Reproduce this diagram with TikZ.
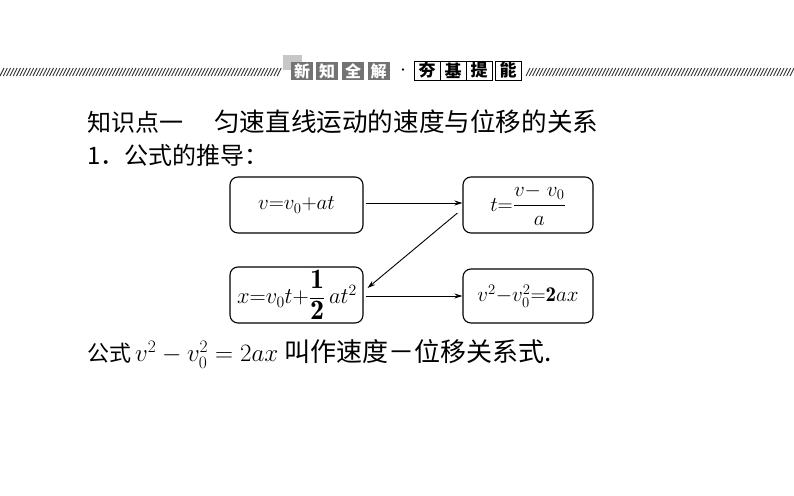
\RequirePackage{fix-cm}
\documentclass[tikz,border=0pt]{standalone}
\usepackage{fontspec}
\usepackage{amsmath}
\newfontfamily\cjk{Noto Sans CJK SC}
\usetikzlibrary{arrows.meta}
\tikzset{
  fbox/.style={draw, line width=1.1pt, rounded corners=8pt, minimum width=133pt, minimum height=56pt, inner sep=0pt, font=\fontsize{21}{24}\selectfont},
  conn/.style={line width=0.9pt, -{Stealth[length=8pt,width=5pt]}},
  graycell/.style={fill=black!55, draw=none, minimum width=22pt, minimum height=18pt, inner sep=0pt, text=white, font=\cjk\bfseries\fontsize{16}{16}\selectfont},
  whitecell/.style={fill=white, draw, line width=0.8pt, minimum width=26pt, minimum height=19pt, inner sep=0pt, font=\cjk\bfseries\fontsize{17}{17}\selectfont},
  hatch/.style={line width=0.9pt, black!80},
  txt/.style={anchor=west, inner sep=0pt}
}
\newcommand\bigdig[1]{\scalebox{1.25}{$\mathbf{#1}$}}
\begin{document}
\begin{tikzpicture}[x=1pt,y=-1pt]
\useasboundingbox (0,0) rectangle (794,495);
% header hatching
\foreach \i in {0,3.3,...,280} {\draw[hatch] (\i,76) -- (\i+4,68);}
\foreach \i in {526,529.3,...,792} {\draw[hatch] (\i,76) -- (\i+4,68);}
\fill[black!22] (283,55) rectangle (302,70);
\node[graycell] (g1) at (302,71) {新};
\node[graycell] (g2) at (327,71) {知};
\node[graycell] (g3) at (353,71) {全};
\node[graycell] (g4) at (378.5,71) {解};
\node[font=\bfseries\fontsize{16}{16}\selectfont] (dot) at (403,72) {·};
\node[whitecell] (w1) at (427,70.5) {夯};
\node[whitecell] (w2) at (453,70.5) {基};
\node[whitecell] (w3) at (479,70.5) {提};
\node[whitecell] (w4) at (508,70.5) {能};
% titles
\node[txt, font=\cjk\fontsize{24}{24}\selectfont] (title1) at (87,122) {知识点一};
\node[txt, font=\cjk\fontsize{25.6}{26}\selectfont] (title2) at (214,122) {匀速直线运动的速度与位移的关系};
\node[txt, font=\cjk\fontsize{24}{24}\selectfont] (sub) at (87,155) {1．公式的推导：};
% boxes
\node[fbox] (b1) at (296.5,205) {$v{=}v_0{+}at$};
\node[fbox, minimum width=130pt] (b2) at (528,205) {$t{=}\dfrac{v{-}\;v_0}{a}$\hspace{2pt}};
\node[fbox, font=\fontsize{22.5}{26}\selectfont] (b3) at (296.5,295) {\hspace{1pt}$x{=}v_0t{+}\dfrac{\bigdig{1}}{\bigdig{2}}\,at^2$};
\node[fbox, minimum width=130pt, minimum height=54pt] (b4) at (528,296) {$v^2{-}v_0^2{=}\mathbf{2}ax$};
% connectors
\draw[conn] ([xshift=2pt,yshift=2pt]b1.east) coordinate (s1) -- (b2.west|-s1);
\draw[conn] ([xshift=-5pt,yshift=-8pt]b2.west) coordinate (s2) -- ([xshift=4pt,yshift=7pt]b3.east);
\draw[conn] ([xshift=2pt,yshift=-1pt]b3.east) coordinate (s3) -- (b4.west|-s3);
% bottom line
\node[txt, font=\cjk\fontsize{22}{22}\selectfont] (bottom) at (87,354) {公式\hspace{4pt}{\fontsize{25}{25}\selectfont$v^2-v_0^2=2ax$}\hspace{6pt}{\fontsize{26}{26}\selectfont 叫作速度－位移关系式.}};
\end{tikzpicture}
\end{document}
